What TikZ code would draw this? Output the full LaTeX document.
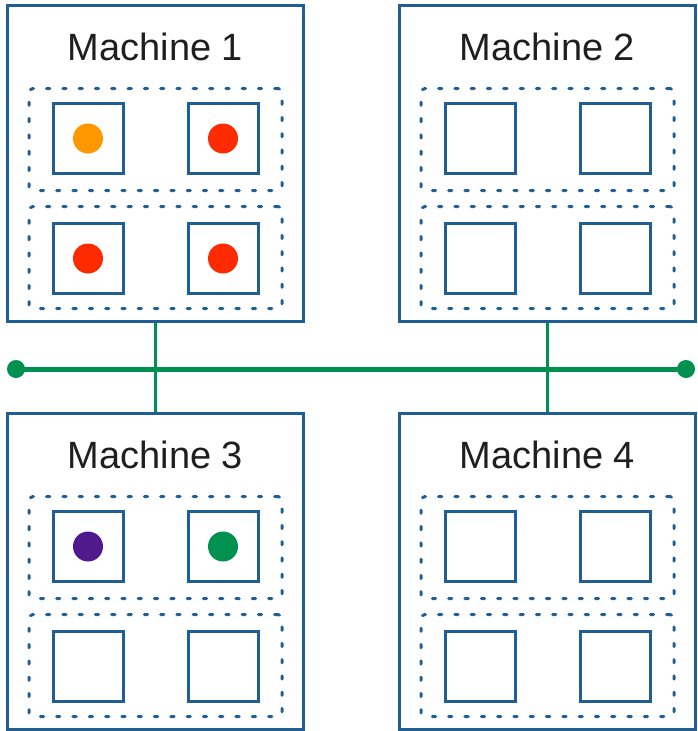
\documentclass[tikz,border=0pt]{standalone}
\usepackage{fontspec}
\setmainfont{Liberation Sans}
\definecolor{mblue}{RGB}{31,95,150}
\definecolor{bgreen}{RGB}{0,144,80}
\definecolor{dorange}{RGB}{255,152,0}
\definecolor{dred}{RGB}{255,42,0}
\definecolor{dpurple}{RGB}{80,26,140}
\definecolor{dgreen}{RGB}{0,145,80}
\tikzset{
  machine/.style={draw=mblue, line width=3pt, minimum width=296pt, minimum height=316pt, inner sep=0pt},
  tray/.style={draw=mblue, line width=3pt, dash pattern=on 3.3pt off 13pt, line cap=round, rounded corners=4pt, minimum width=253pt, minimum height=102pt, inner sep=0pt},
  slot/.style={draw=mblue, line width=3pt, minimum size=70pt, inner sep=0pt},
  mtitle/.style={font=\fontsize{38}{40}\selectfont, text=black!88, anchor=base, inner sep=0pt},
  dot/.style={circle, fill=#1, minimum size=30pt, inner sep=0pt, draw=none},
  link/.style={draw=bgreen, line width=3pt},
  bus/.style={draw=bgreen, line width=5pt},
  busend/.style={circle, fill=bgreen, minimum size=18pt, inner sep=0pt, draw=none},
}
\newcommand\mkmachine[4]{%
  \node[machine] (#1) at (#2,#3) {};
  \node[mtitle] (#1t) at (#2,{#3-103.5}) {#4};
  \node[tray] (#1r1) at (#2,{#3-24}) {};
  \node[tray] (#1r2) at (#2,{#3+94}) {};
  \node[slot] (#1s1) at ({#2-67.5},{#3-25}) {};
  \node[slot] (#1s2) at ({#2+67.5},{#3-25}) {};
  \node[slot] (#1s3) at ({#2-67.5},{#3+95}) {};
  \node[slot] (#1s4) at ({#2+67.5},{#3+95}) {};
}
\begin{document}
\begin{tikzpicture}[x=1pt,y=-1pt]
\useasboundingbox (0,0) rectangle (698,731);
\mkmachine{ma}{155.5}{163.5}{Machine 1}
\mkmachine{mb}{547.5}{163.5}{Machine 2}
\mkmachine{mc}{155.5}{571.5}{Machine 3}
\mkmachine{md}{547.5}{571.5}{Machine 4}
\node[dot=dorange] (d1) at (mas1) {};
\node[dot=dred] (d2) at (mas2) {};
\node[dot=dred] (d3) at (mas3) {};
\node[dot=dred] (d4) at (mas4) {};
\node[dot=dpurple] (d5) at (mcs1) {};
\node[dot=dgreen] (d6) at (mcs2) {};
\draw[link] (ma.south) -- (mc.north);
\draw[link] (mb.south) -- (md.north);
\coordinate (busL) at (16,369);
\coordinate (busR) at (686,369);
\draw[bus] (busL) -- (busR);
\node[busend] (bl) at (busL) {};
\node[busend] (br) at (busR) {};
\end{tikzpicture}
\end{document}
